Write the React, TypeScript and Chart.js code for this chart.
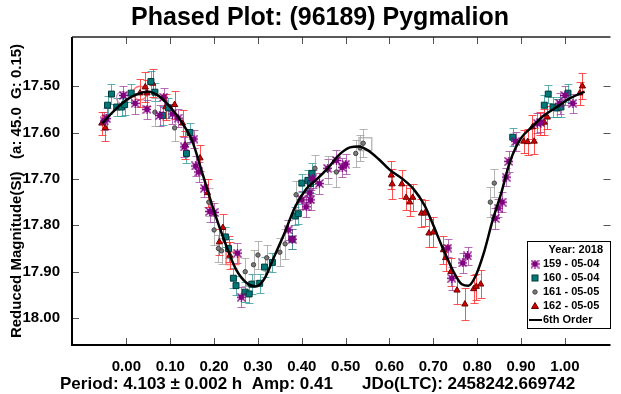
import React, { useEffect, useRef } from 'react';
import { Chart, registerables } from 'chart.js';

Chart.register(...registerables);

const FONT = '"Liberation Sans", Arial, Helvetica, sans-serif';

const titleText = 'Phased Plot: (96189) Pygmalion';
const yAxisTitle = 'Reduced Magnitude(SI)   (a: 45.0  G: 0.15)';
const footerLeft = 'Period: 4.103 ± 0.002 h  Amp: 0.41';
const footerRight = 'JDo(LTC): 2458242.669742';
const legendHeader = 'Year: 2018';
const seriesLabels = ['159 - 05-04', '160 - 05-04', '161 - 05-05', '162 - 05-05'];
const fitLabel = '6th Order';

const xTickValues = [0, 0.1, 0.2, 0.3, 0.4, 0.5, 0.6, 0.7, 0.8, 0.9, 1.0];
const yTickValues = [17.5, 17.6, 17.7, 17.8, 17.9, 18.0];

// Session 159 (purple)
const s159Phase = [-0.051, -0.045, -0.007, 0.020, 0.047, 0.076, 0.085, 0.105, 0.118, 0.132, 0.158, 0.154, 0.165, 0.178, 0.190, 0.200, 0.253, 0.262, 0.369, 0.378, 0.400, 0.410, 0.418, 0.420, 0.425, 0.440, 0.459, 0.479, 0.492, 0.500, 0.733, 0.742, 0.767, 0.778, 0.841, 0.848, 0.857, 0.866, 0.872, 0.888, 0.937, 0.944, 0.988, 1.000, 1.018];
const s159Mag = [17.575, 17.570, 17.520, 17.537, 17.550, 17.563, 17.524, 17.560, 17.569, 17.631, 17.672, 17.614, 17.685, 17.720, 17.770, 17.772, 17.860, 17.955, 17.810, 17.830, 17.745, 17.760, 17.730, 17.745, 17.700, 17.710, 17.677, 17.660, 17.675, 17.668, 17.849, 17.914, 17.881, 17.866, 17.785, 17.763, 17.750, 17.696, 17.662, 17.619, 17.580, 17.578, 17.537, 17.520, 17.537];
const s159Err = [0.020, 0.022, 0.020, 0.022, 0.020, 0.022, 0.020, 0.022, 0.020, 0.022, 0.022, 0.020, 0.022, 0.020, 0.022, 0.020, 0.022, 0.022, 0.022, 0.022, 0.020, 0.022, 0.020, 0.022, 0.020, 0.022, 0.020, 0.022, 0.020, 0.022, 0.020, 0.025, 0.022, 0.020, 0.022, 0.020, 0.022, 0.020, 0.022, 0.020, 0.022, 0.020, 0.022, 0.020, 0.020];

// Session 160 (teal)
const s160Phase = [-0.043, -0.034, -0.022, -0.011, -0.004, 0.011, 0.056, 0.065, 0.083, 0.096, 0.137, 0.145, 0.226, 0.233, 0.244, 0.250, 0.271, 0.280, 0.286, 0.304, 0.315, 0.333, 0.378, 0.385, 0.392, 0.400, 0.414, 0.420, 0.423, 0.881, 0.953, 0.962, 0.973, 0.982, 0.991, 1.007];
const s160Mag = [17.541, 17.517, 17.545, 17.545, 17.540, 17.515, 17.490, 17.513, 17.563, 17.547, 17.645, 17.600, 17.825, 17.850, 17.914, 17.930, 17.944, 17.948, 17.927, 17.925, 17.890, 17.880, 17.830, 17.780, 17.775, 17.709, 17.703, 17.710, 17.688, 17.610, 17.541, 17.517, 17.545, 17.547, 17.545, 17.515];
const s160Err = [0.020, 0.022, 0.020, 0.020, 0.022, 0.020, 0.022, 0.020, 0.020, 0.022, 0.020, 0.020, 0.022, 0.020, 0.022, 0.020, 0.022, 0.020, 0.022, 0.020, 0.022, 0.020, 0.022, 0.020, 0.022, 0.020, 0.022, 0.020, 0.022, 0.020, 0.022, 0.020, 0.022, 0.020, 0.022, 0.020];

// Session 161 (grey)
const s161Phase = [0.065, 0.110, 0.188, 0.200, 0.210, 0.217, 0.271, 0.290, 0.300, 0.320, 0.350, 0.362, 0.387, 0.430, 0.459, 0.479, 0.523, 0.533, 0.540, 0.830, 0.839];
const s161Mag = [17.556, 17.590, 17.750, 17.810, 17.850, 17.855, 17.900, 17.885, 17.864, 17.870, 17.858, 17.840, 17.734, 17.677, 17.680, 17.685, 17.645, 17.633, 17.623, 17.750, 17.709];
const s161Err = [0.030, 0.028, 0.030, 0.032, 0.030, 0.028, 0.030, 0.032, 0.030, 0.028, 0.030, 0.032, 0.030, 0.028, 0.030, 0.032, 0.030, 0.028, 0.030, 0.032, 0.030];

// Session 162 (red)
const s162Phase = [-0.056, -0.048, 0.031, 0.043, 0.047, 0.060, 0.090, 0.110, 0.128, 0.134, 0.168, 0.185, 0.212, 0.220, 0.233, 0.236, 0.604, 0.606, 0.628, 0.638, 0.646, 0.653, 0.673, 0.680, 0.690, 0.700, 0.723, 0.728, 0.740, 0.754, 0.772, 0.792, 0.798, 0.808, 0.906, 0.915, 0.926, 0.930, 0.944, 0.953, 0.960, 1.034, 1.040];
const s162Mag = [17.580, 17.590, 17.515, 17.502, 17.515, 17.494, 17.545, 17.540, 17.580, 17.627, 17.655, 17.730, 17.836, 17.805, 17.850, 17.865, 17.692, 17.711, 17.711, 17.740, 17.750, 17.740, 17.774, 17.774, 17.817, 17.815, 17.853, 17.870, 17.900, 17.940, 17.970, 17.937, 17.932, 17.927, 17.619, 17.620, 17.588, 17.619, 17.580, 17.578, 17.567, 17.515, 17.500];
const s162Err = [0.025, 0.028, 0.030, 0.032, 0.028, 0.030, 0.028, 0.030, 0.028, 0.030, 0.028, 0.030, 0.028, 0.030, 0.028, 0.030, 0.030, 0.032, 0.030, 0.028, 0.030, 0.030, 0.030, 0.028, 0.030, 0.032, 0.030, 0.028, 0.030, 0.030, 0.035, 0.030, 0.028, 0.030, 0.025, 0.028, 0.025, 0.028, 0.025, 0.028, 0.025, 0.025, 0.028];

// Session start highlight markers
const startPhase = [-0.009, 0.031, 0.242, 0.545];
const startMag = [17.525, 17.515, 17.871, 17.625];

// 6th order Fourier fit
const fitPhase = [-0.055, -0.03, 0.0, 0.025, 0.05, 0.075, 0.10, 0.125, 0.15, 0.175, 0.20, 0.225, 0.25, 0.275, 0.295, 0.315, 0.335, 0.36, 0.385, 0.41, 0.435, 0.46, 0.485, 0.51, 0.53, 0.55, 0.575, 0.60, 0.63, 0.655, 0.68, 0.70, 0.72, 0.745, 0.765, 0.78, 0.795, 0.815, 0.835, 0.855, 0.875, 0.90, 0.925, 0.95, 0.98, 1.01, 1.045];
const fitMag = [17.580, 17.555, 17.530, 17.517, 17.512, 17.522, 17.545, 17.576, 17.618, 17.693, 17.770, 17.837, 17.895, 17.925, 17.932, 17.915, 17.872, 17.818, 17.760, 17.722, 17.700, 17.676, 17.648, 17.632, 17.630, 17.638, 17.657, 17.680, 17.700, 17.722, 17.757, 17.800, 17.846, 17.898, 17.927, 17.930, 17.912, 17.860, 17.790, 17.730, 17.662, 17.612, 17.588, 17.565, 17.546, 17.527, 17.512];

const PURPLE = '#800080';
const TEAL = '#007878';
const GREY = '#7a7a7a';
const RED = '#d40000';

function makeStarMarker(): HTMLCanvasElement {
  const c = document.createElement('canvas');
  c.width = 9;
  c.height = 9;
  const g = c.getContext('2d') as CanvasRenderingContext2D;
  g.fillStyle = PURPLE;
  g.fillRect(2, 2, 5, 5);
  g.strokeStyle = PURPLE;
  g.lineWidth = 1.3;
  g.beginPath();
  g.moveTo(0.5, 0.5); g.lineTo(8.5, 8.5);
  g.moveTo(8.5, 0.5); g.lineTo(0.5, 8.5);
  g.moveTo(4.5, 0); g.lineTo(4.5, 9);
  g.moveTo(0, 4.5); g.lineTo(9, 4.5);
  g.stroke();
  return c;
}

const pts = (xs: number[], ys: number[]) => xs.map((x, i) => ({ x, y: ys[i] }));

function drawMarker(ctx: CanvasRenderingContext2D, kind: number, x: number, y: number, star: HTMLCanvasElement) {
  ctx.save();
  if (kind === 0) {
    ctx.drawImage(star, x - 4.5, y - 4.5);
  } else if (kind === 1) {
    ctx.fillStyle = TEAL;
    ctx.strokeStyle = '#003a3a';
    ctx.lineWidth = 1;
    ctx.fillRect(x - 3, y - 3, 6, 6);
    ctx.strokeRect(x - 3, y - 3, 6, 6);
  } else if (kind === 2) {
    ctx.fillStyle = GREY;
    ctx.strokeStyle = '#444';
    ctx.beginPath();
    ctx.arc(x, y, 2.2, 0, Math.PI * 2);
    ctx.fill();
    ctx.stroke();
  } else if (kind === 3) {
    ctx.fillStyle = RED;
    ctx.strokeStyle = '#6a0000';
    ctx.beginPath();
    ctx.moveTo(x, y - 3.5);
    ctx.lineTo(x + 3.5, y + 2.5);
    ctx.lineTo(x - 3.5, y + 2.5);
    ctx.closePath();
    ctx.fill();
    ctx.stroke();
  }
  ctx.restore();
}

export default function App() {
  const ref = useRef<HTMLCanvasElement>(null);

  useEffect(() => {
    const canvas = ref.current;
    if (!canvas) return;
    const star = makeStarMarker();

    const decor = {
      id: 'decor',
      beforeDatasetsDraw(chart: any) {
        const { ctx } = chart;
        const xs = chart.scales.x;
        const ys = chart.scales.y;
        ctx.save();
        chart.data.datasets.forEach((ds: any) => {
          if (!ds.errors) return;
          ctx.strokeStyle = ds.errorColor;
          ctx.lineWidth = 1;
          ds.data.forEach((p: any, j: number) => {
            const e = ds.errors[j];
            const px = Math.round(xs.getPixelForValue(p.x)) + 0.5;
            const y1 = Math.round(ys.getPixelForValue(p.y - e)) + 0.5;
            const y2 = Math.round(ys.getPixelForValue(p.y + e)) + 0.5;
            ctx.beginPath();
            ctx.moveTo(px, y1); ctx.lineTo(px, y2);
            ctx.moveTo(px - 4, y1); ctx.lineTo(px + 4, y1);
            ctx.moveTo(px - 4, y2); ctx.lineTo(px + 4, y2);
            ctx.stroke();
          });
        });
        ctx.restore();
      },
      afterDraw(chart: any) {
        const { ctx, chartArea } = chart;
        const { left, right, top, bottom } = chartArea;
        const xs = chart.scales.x;
        const ys = chart.scales.y;
        ctx.save();
        // tick marks (inward)
        ctx.strokeStyle = '#555';
        ctx.lineWidth = 1;
        ctx.beginPath();
        xTickValues.forEach((v) => {
          const px = Math.round(xs.getPixelForValue(v)) + 0.5;
          ctx.moveTo(px, bottom); ctx.lineTo(px, bottom - 7);
          ctx.moveTo(px, top); ctx.lineTo(px, top + 7);
        });
        yTickValues.forEach((v) => {
          const py = Math.round(ys.getPixelForValue(v)) + 0.5;
          ctx.moveTo(left, py); ctx.lineTo(left + 7, py);
          ctx.moveTo(right, py); ctx.lineTo(right - 7, py);
        });
        ctx.stroke();
        // frame (left, bottom, top)
        ctx.strokeStyle = '#000';
        ctx.lineWidth = 2;
        ctx.beginPath();
        ctx.moveTo(left, top); ctx.lineTo(left, bottom); ctx.lineTo(right, bottom);
        ctx.stroke();
        ctx.lineWidth = 1.5;
        ctx.strokeStyle = '#222';
        ctx.beginPath();
        ctx.moveTo(left, top); ctx.lineTo(right, top);
        ctx.stroke();

        // title
        ctx.fillStyle = '#000';
        ctx.textBaseline = 'middle';
        ctx.textAlign = 'center';
        ctx.font = `bold 25px ${FONT}`;
        ctx.fillText(titleText, 320, 18);
        // footer
        ctx.textAlign = 'left';
        ctx.font = `bold 17px ${FONT}`;
        ctx.fillText(footerLeft, 60, 384);
        ctx.fillText(footerRight, 362, 384);

        // legend
        const bx = 527, by = 241, bw = 83, bh = 87;
        ctx.fillStyle = '#fff';
        ctx.fillRect(bx, by, bw, bh);
        ctx.strokeStyle = '#000';
        ctx.lineWidth = 1;
        ctx.strokeRect(bx + 0.5, by + 0.5, bw, bh);
        ctx.fillStyle = '#000';
        ctx.font = `bold 11px ${FONT}`;
        ctx.textAlign = 'right';
        ctx.fillText(legendHeader, 603, 250);
        ctx.textAlign = 'left';
        seriesLabels.forEach((lab, i) => {
          const yy = 264 + i * 14;
          drawMarker(ctx, i, 535, yy, star);
          ctx.fillStyle = '#000';
          ctx.fillText(lab, 543, yy);
        });
        ctx.strokeStyle = '#000';
        ctx.lineWidth = 2;
        ctx.beginPath();
        ctx.moveTo(529, 320); ctx.lineTo(542, 320);
        ctx.stroke();
        ctx.fillText(fitLabel, 543, 320);
        ctx.restore();
      },
    };

    const tickFont = { family: FONT, size: 15, weight: 'bold' as const };

    const chart = new Chart(canvas, {
      type: 'scatter',
      data: {
        datasets: [
          {
            label: fitLabel,
            type: 'line',
            data: pts(fitPhase, fitMag),
            borderColor: '#000',
            borderWidth: 2.5,
            pointRadius: 0,
            showLine: true,
            fill: false,
            cubicInterpolationMode: 'monotone',
            order: 0,
          } as any,
          {
            label: seriesLabels[0],
            data: pts(s159Phase, s159Mag),
            errors: s159Err,
            errorColor: 'rgba(160,60,160,0.75)',
            pointStyle: star,
            pointRadius: 4.5,
            order: 1,
          } as any,
          {
            label: seriesLabels[1],
            data: pts(s160Phase, s160Mag),
            errors: s160Err,
            errorColor: 'rgba(40,150,150,0.75)',
            pointStyle: 'rect',
            pointRadius: 4.2,
            backgroundColor: TEAL,
            borderColor: '#003a3a',
            borderWidth: 1,
            order: 2,
          } as any,
          {
            label: seriesLabels[2],
            data: pts(s161Phase, s161Mag),
            errors: s161Err,
            errorColor: 'rgba(150,150,150,0.7)',
            pointStyle: 'circle',
            pointRadius: 2.2,
            backgroundColor: GREY,
            borderColor: '#444',
            borderWidth: 1,
            order: 3,
          } as any,
          {
            label: seriesLabels[3],
            data: pts(s162Phase, s162Mag),
            errors: s162Err,
            errorColor: 'rgba(255,40,40,0.8)',
            pointStyle: 'triangle',
            pointRadius: 3.6,
            backgroundColor: RED,
            borderColor: '#6a0000',
            borderWidth: 1,
            order: 4,
          } as any,
          {
            label: 'session start',
            data: pts(startPhase, startMag),
            pointStyle: ['circle', 'circle', 'rect', 'rect'],
            pointRadius: [6, 7, 9, 9],
            backgroundColor: 'rgba(0,0,0,0)',
            borderColor: ['rgba(190,120,190,0.7)', 'rgba(255,80,80,0.8)', 'rgba(255,80,80,0.8)', 'rgba(170,170,170,0.8)'],
            borderWidth: 1.5,
            order: 5,
          } as any,
        ],
      },
      options: {
        responsive: false,
        animation: false,
        events: [],
        layout: { padding: { top: 37, right: 0, left: 0, bottom: 0 } },
        plugins: {
          legend: { display: false },
          tooltip: { enabled: false },
          title: { display: false },
        },
        scales: {
          x: {
            type: 'linear',
            min: -0.124,
            max: 1.104,
            grid: { display: false },
            border: { display: false },
            afterBuildTicks: (s: any) => {
              s.ticks = xTickValues.map((v) => ({ value: v }));
            },
            afterFit: (s: any) => {
              s.height = 49;
            },
            ticks: {
              padding: 5,
              color: '#000',
              font: tickFont,
              maxRotation: 0,
              autoSkip: false,
              callback: (v: any) => Number(v).toFixed(2),
            },
          },
          y: {
            type: 'linear',
            reverse: true,
            min: 17.394,
            max: 18.058,
            grid: { display: false },
            border: { display: false },
            afterBuildTicks: (s: any) => {
              s.ticks = yTickValues.map((v) => ({ value: v }));
            },
            afterFit: (s: any) => {
              s.width = 72;
            },
            ticks: {
              padding: 4,
              color: '#000',
              font: tickFont,
              autoSkip: false,
              callback: (v: any) => Number(v).toFixed(2),
            },
            title: {
              display: true,
              text: yAxisTitle,
              color: '#000',
              font: { family: FONT, size: 15, weight: 'bold' },
              padding: { top: 8, bottom: 0 },
            },
          },
        },
      } as any,
      plugins: [decor],
    });

    return () => chart.destroy();
  }, []);

  return (
    <div style={{ position: 'absolute', left: 0, top: 0, width: 621, height: 394, background: '#fff' }}>
      <canvas ref={ref} width={621} height={394} style={{ display: 'block' }} />
    </div>
  );
}
